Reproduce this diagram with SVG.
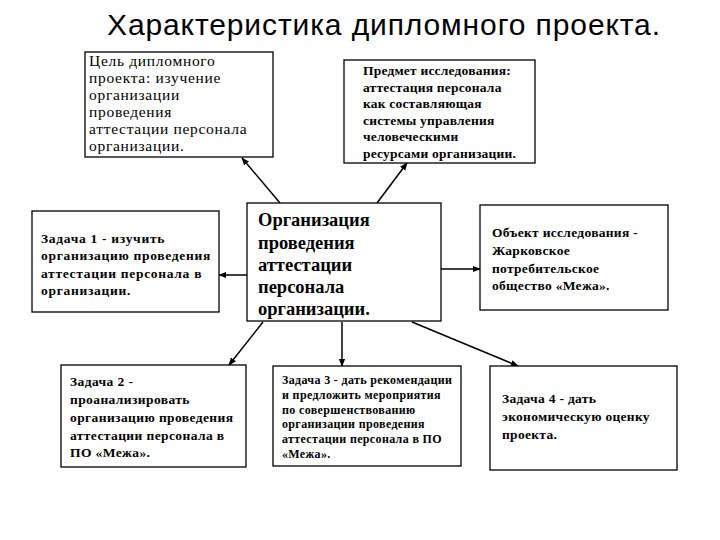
<svg xmlns="http://www.w3.org/2000/svg" width="720" height="540" viewBox="0 0 720 540">
<defs>
<marker id="ah" viewBox="0 0 10 10" refX="9" refY="5" markerWidth="8" markerHeight="8" markerUnits="userSpaceOnUse" orient="auto">
<path d="M0,1 L10,5 L0,9 Z" fill="#000"/>
</marker>
<style>
.box{fill:#fff;stroke:#000;stroke-width:1.3}
.t{font-family:"Liberation Serif","Times New Roman",serif;fill:#000}
.b{font-weight:bold}
.c line{stroke:#000;stroke-width:1.5;marker-end:url(#ah)}
</style>
</defs>
<rect width="720" height="540" fill="#fff"/>
<text x="107" y="35" font-family="Liberation Sans, Arial, sans-serif" font-size="30" textLength="553" fill="#000">Характеристика дипломного проекта.</text>
<g class="c">
<line x1="280" y1="203" x2="242" y2="158"/>
<line x1="377" y1="203" x2="407" y2="163"/>
<line x1="247" y1="275" x2="219" y2="275"/>
<line x1="441" y1="269" x2="480" y2="269"/>
<line x1="263" y1="322" x2="229" y2="365"/>
<line x1="342" y1="322" x2="342" y2="366"/>
<line x1="412" y1="322" x2="518" y2="366"/>
</g>
<g id="goal">
<rect class="box" x="85" y="52" width="188" height="105"/>
<text class="t" font-size="15.5" letter-spacing="0.7"><tspan x="89" y="66">Цель дипломного</tspan><tspan x="89" y="83">проекта: изучение</tspan><tspan x="89" y="100">организации</tspan><tspan x="89" y="117">проведения</tspan><tspan x="89" y="134">аттестации персонала</tspan><tspan x="89" y="151">организации.</tspan></text>
</g>
<g id="subject">
<rect class="box" x="344" y="60" width="191" height="103"/>
<text class="t b" font-size="13.5" letter-spacing="0.2"><tspan x="363" y="75">Предмет исследования:</tspan><tspan x="363" y="92">аттестация персонала</tspan><tspan x="363" y="108">как составляющая</tspan><tspan x="363" y="125">системы управления</tspan><tspan x="363" y="141">человеческими</tspan><tspan x="363" y="158">ресурсами организации.</tspan></text>
</g>
<g id="task1">
<rect class="box" x="32" y="211" width="187" height="101"/>
<text class="t b" font-size="13.5" letter-spacing="0.7"><tspan x="41" y="243">Задача 1 - изучить</tspan><tspan x="41" y="260">организацию проведения</tspan><tspan x="41" y="278">аттестации персонала в</tspan><tspan x="41" y="295">организации.</tspan></text>
</g>
<g id="center">
<rect class="box" x="247" y="203" width="194" height="118"/>
<text class="t b" font-size="18.5"><tspan x="258" y="226">Организация</tspan><tspan x="258" y="249">проведения</tspan><tspan x="258" y="271">аттестации</tspan><tspan x="258" y="293">персонала</tspan><tspan x="258" y="315">организации.</tspan></text>
</g>
<g id="object">
<rect class="box" x="480" y="205" width="188" height="105"/>
<text class="t b" font-size="13.5" letter-spacing="0.3"><tspan x="492" y="237">Объект исследования -</tspan><tspan x="492" y="255">Жарковское</tspan><tspan x="492" y="273">потребительское</tspan><tspan x="492" y="290">общество «Межа».</tspan></text>
</g>
<g id="task2">
<rect class="box" x="61" y="365" width="185" height="102"/>
<text class="t b" font-size="13.5" letter-spacing="0.4"><tspan x="70" y="386">Задача 2 -</tspan><tspan x="70" y="404">проанализировать</tspan><tspan x="70" y="422">организацию проведения</tspan><tspan x="70" y="440">аттестации персонала в</tspan><tspan x="70" y="457">ПО «Межа».</tspan></text>
</g>
<g id="task3">
<rect class="box" x="273" y="366" width="188" height="100"/>
<text class="t b" font-size="12" letter-spacing="0.35"><tspan x="282" y="384">Задача 3 - дать рекомендации</tspan><tspan x="282" y="399">и предложить мероприятия</tspan><tspan x="282" y="414">по совершенствованию</tspan><tspan x="282" y="428">организации проведения</tspan><tspan x="282" y="443">аттестации персонала в ПО</tspan><tspan x="282" y="458">«Межа».</tspan></text>
</g>
<g id="task4">
<rect class="box" x="490" y="366" width="187" height="104"/>
<text class="t b" font-size="13.5" letter-spacing="0.3"><tspan x="502" y="403">Задача 4 - дать</tspan><tspan x="502" y="421">экономическую оценку</tspan><tspan x="502" y="439">проекта.</tspan></text>
</g>
</svg>
